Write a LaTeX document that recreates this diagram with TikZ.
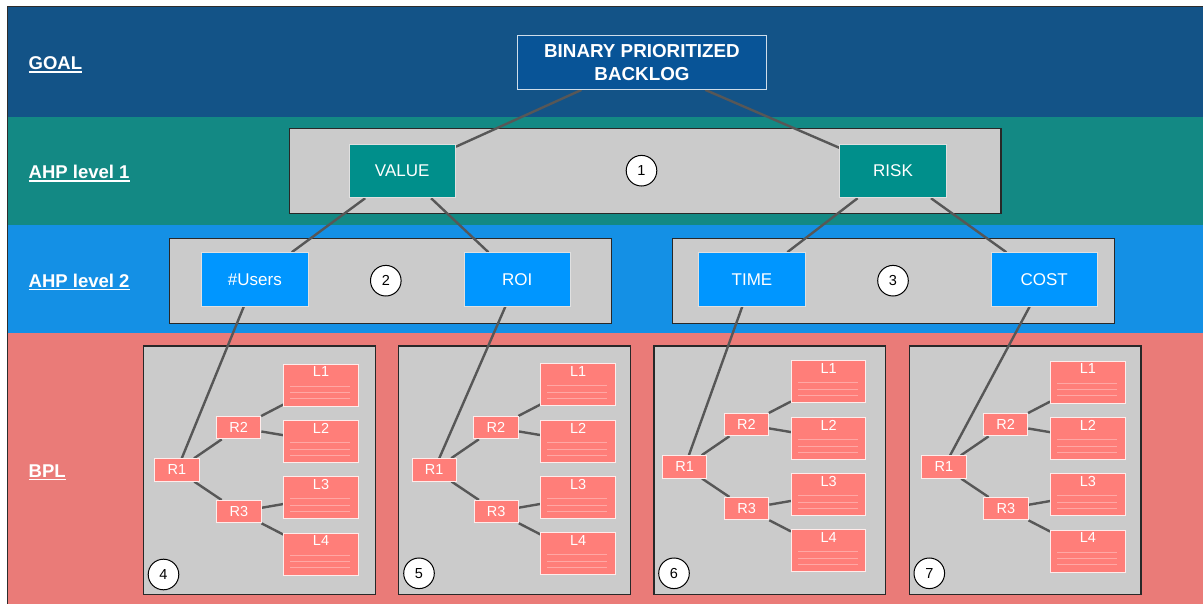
\documentclass[tikz,border=0pt]{standalone}
\usepackage{fontspec}
\setmainfont{Liberation Sans}
\usetikzlibrary{calc}

\pgfdeclarelayer{back}
\pgfdeclarelayer{wires}
\pgfsetlayers{back,wires,main}

% palette
\definecolor{goalband}{RGB}{19,83,135}
\definecolor{oneband}{RGB}{19,137,132}
\definecolor{twoband}{RGB}{20,144,229}
\definecolor{bplband}{RGB}{234,123,120}
\definecolor{goalfill}{RGB}{8,84,151}
\definecolor{onefill}{RGB}{0,143,139}
\definecolor{twofill}{RGB}{0,150,255}
\definecolor{redfill}{RGB}{255,126,121}
\definecolor{panelgray}{RGB}{203,203,203}
\definecolor{panelline}{RGB}{40,40,40}
\definecolor{wirecol}{RGB}{87,87,87}
\definecolor{framecol}{RGB}{45,45,45}

\tikzset{
  panel/.style={fill=panelgray, draw=panelline, line width=1.4pt},
  wire/.style={draw=wirecol, line width=2.4pt},
  lanelabel/.style={anchor=base west, inner sep=0pt, text=white,
    font=\fontsize{18.5}{22}\selectfont\bfseries},
  goalbox/.style={minimum width=249.4pt, minimum height=53.6pt, inner sep=0pt,
    fill=goalfill, draw=white!80!goalfill, line width=1.2pt, text=white,
    align=center, font=\fontsize{18.8}{23}\selectfont\bfseries},
  critbox/.style={minimum width=106.4pt, minimum height=53.4pt, inner sep=0pt,
    draw=white!88!black, line width=1pt, text=white,
    font=\fontsize{17}{19}\selectfont},
  lvlone/.style={critbox, fill=onefill},
  lvltwo/.style={critbox, fill=twofill},
  marker/.style={circle, minimum size=30.6pt, inner sep=0pt, draw=black,
    line width=1pt, fill=white, text=black, font=\fontsize{14.5}{16}\selectfont},
  rbox/.style={minimum width=44.3pt, minimum height=22.3pt, inner sep=0pt,
    fill=redfill, draw=white!85!redfill, line width=1pt, text=white,
    font=\fontsize{14.5}{16}\selectfont},
  lbox/.style={minimum width=74.5pt, minimum height=42pt, inner sep=0pt,
    fill=redfill, draw=white!85!redfill, line width=1pt},
  ltext/.style={inner sep=0pt, text=white, font=\fontsize{14.5}{16}\selectfont},
  ruling/.style={draw=redfill!68!white, line width=0.7pt}
}

% a leaf card: box, title and three ruled lines
\newcommand{\leafbox}[3]{%
  \node[lbox] (#1) at (#2) {};
  \node[ltext] (#1-t) at ([yshift=-8.5pt]#1.north) {#3};
  \foreach \d in {22.4,29,35}{%
    \draw[ruling] ([xshift=7pt,yshift=-\d pt]#1.north west) --
                  ([xshift=67pt,yshift=-\d pt]#1.north west);}%
}

% one BPL tree inside its panel
% #1 prefix, #2 panel left, #3/#4 R1 centre, #5 number, #6/#7 marker centre
\newcommand{\bplgroup}[7]{%
  \begin{pgfonlayer}{back}
    \draw[panel] (#2,346) rectangle ++(231.7,248.5);
  \end{pgfonlayer}
  \begin{scope}[shift={(#3,#4)}]
    \node[rbox] (#1R1) at (0,0) {R1};
    \node[rbox] (#1R2) at (61.7,-42.3) {R2};
    \node[rbox] (#1R3) at (62,41.7) {R3};
    \leafbox{#1L1}{144,-85}{L1}
    \leafbox{#1L2}{144,-28.5}{L2}
    \leafbox{#1L3}{144,27.5}{L3}
    \leafbox{#1L4}{144,84}{L4}
  \end{scope}
  \node[marker] (#1M) at (#6,#7) {#5};
  \begin{pgfonlayer}{wires}
    \draw[wire] (#1R1) -- (#1R2);
    \draw[wire] (#1R1) -- (#1R3);
    \draw[wire] (#1R2) -- (#1L1);
    \draw[wire] (#1R2) -- (#1L2);
    \draw[wire] (#1R3) -- (#1L3);
    \draw[wire] (#1R3) -- (#1L4);
  \end{pgfonlayer}
}

\begin{document}
\begin{tikzpicture}[x=1pt,y=-1pt]
\useasboundingbox (0,0) rectangle (1203,604);

% lanes, frame and panels
\begin{pgfonlayer}{back}
  \fill[goalband] (7.7,6.7) rectangle (1203,117);
  \fill[oneband] (7.7,117) rectangle (1203,225);
  \fill[twoband] (7.7,225) rectangle (1203,333.3);
  \fill[bplband] (7.7,333.3) rectangle (1203,604);
  \draw[framecol, line width=1.4pt] (7.7,604) -- (7.7,6.7) -- (1203,6.7);
  \draw[panel] (289.7,128.3) rectangle (1001,213.3);
  \draw[panel] (169.5,238.7) rectangle (611.5,323.3);
  \draw[panel] (672.3,238.7) rectangle (1114.6,323.3);
\end{pgfonlayer}

% lane titles
\node[lanelabel] (lgoal) at (28.5,70) {GOAL};
\node[lanelabel] (lahp1) at (28.5,179) {AHP level 1};
\node[lanelabel] (lahp2) at (28.5,287.3) {AHP level 2};
\node[lanelabel] (lbpl) at (28.5,477.7) {BPL};
\foreach \n in {lgoal,lahp1,lahp2,lbpl}
  \draw[white, line width=1.5pt] ([yshift=-2pt]\n.base west) -- ([yshift=-2pt]\n.base east);

% goal and AHP criteria
\node[goalbox] (goal) at (642,62.5) {BINARY PRIORITIZED\\BACKLOG};
\node[lvlone] (value) at (402.2,171) {VALUE};
\node[lvlone] (risk) at (893,171) {RISK};
\node[marker] (m1) at (641.5,170.7) {1};
\node[lvltwo] (users) at (254.9,279.4) {\#Users};
\node[lvltwo] (roi) at (517.2,279.4) {ROI};
\node[marker] (m2) at (385.8,280.7) {2};
\node[lvltwo] (time) at (752,279.4) {TIME};
\node[lvltwo] (cost) at (1044.2,279.4) {COST};
\node[marker] (m3) at (893,280.7) {3};

% BPL trees
\bplgroup{b4}{143.5}{177}{470}{4}{163.5}{574.5}
\bplgroup{b5}{398.5}{434.2}{469.9}{5}{419}{573.3}
\bplgroup{b6}{654}{684.7}{466.9}{6}{674}{573.3}
\bplgroup{b7}{909.3}{943.9}{467}{7}{929.3}{573.3}

% hierarchy links
\begin{pgfonlayer}{wires}
  \draw[wire] (goal) -- (value);
  \draw[wire] (goal) -- (risk);
  \draw[wire] (value) -- (users);
  \draw[wire] (value) -- (roi);
  \draw[wire] (risk) -- (time);
  \draw[wire] (risk) -- (cost);
  \draw[wire] (users) -- (b4R1);
  \draw[wire] (roi) -- (b5R1);
  \draw[wire] (time) -- (b6R1);
  \draw[wire] (cost) -- (b7R1);
\end{pgfonlayer}
\end{tikzpicture}
\end{document}
